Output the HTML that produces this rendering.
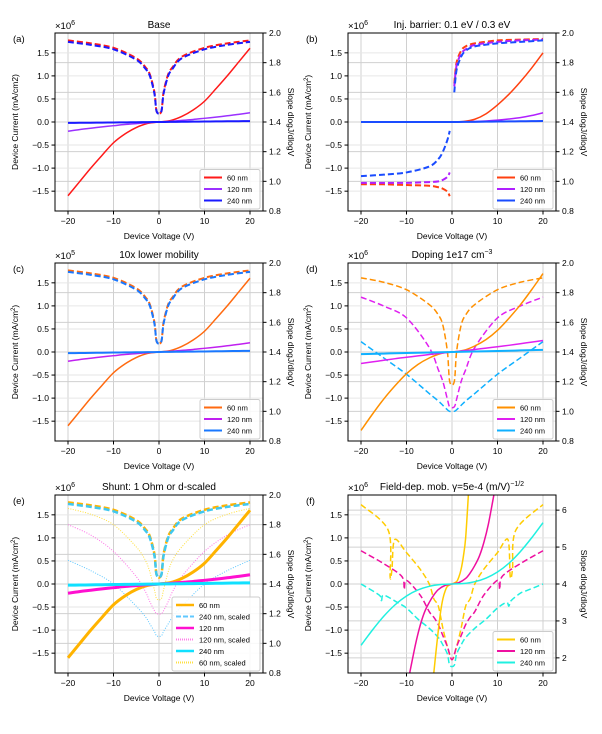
<!DOCTYPE html>
<html><head><meta charset="utf-8">
<style>
body{margin:0;background:#fff;}
svg{display:block;font-family:"Liberation Sans","DejaVu Sans",sans-serif;}
</style></head>
<body>
<svg id="fig" width="602" height="734" viewBox="0 0 602 734" xmlns="http://www.w3.org/2000/svg"></svg>
<script>
// ---- shared voltage grids ----
const vCur = [-20,-17.5,-15,-12.5,-10,-7.5,-5,-2.5,0,2.5,5,7.5,10,12.5,15,17.5,20];
const vSlope = [-20,-15,-10,-5,-3,-2,-1,-0.5,0.5,1,2,3,5,10,15,20];
const xTicks = [-20,-10,0,10,20];
const yTicksLeft = [-1.5,-1.0,-0.5,0.0,0.5,1.0,1.5];
const yTicksRight = [0.8,1.0,1.2,1.4,1.6,1.8,2.0];
const yTicksRightF = [2,3,4,5,6];

// ---- (a) Base ----
const a_j60 = [-1.6,-1.3,-1.0,-0.72,-0.45,-0.26,-0.12,-0.03,0,0.03,0.12,0.26,0.45,0.72,1.0,1.3,1.6];
const a_j120 = [-0.2,-0.165,-0.135,-0.105,-0.08,-0.055,-0.035,-0.015,0,0.015,0.035,0.055,0.08,0.105,0.135,0.165,0.2];
const a_j240 = [-0.02,-0.0175,-0.015,-0.0125,-0.01,-0.0075,-0.005,-0.0025,0,0.0025,0.005,0.0075,0.01,0.0125,0.015,0.0175,0.02];
const a_s60 = [1.95,1.93,1.9,1.83,1.77,1.72,1.6,1.47,1.47,1.6,1.72,1.77,1.84,1.9,1.93,1.95];
const a_s240 = [1.94,1.92,1.89,1.82,1.76,1.71,1.59,1.47,1.47,1.59,1.71,1.76,1.83,1.89,1.92,1.94];

// ---- (b) Injection barrier ----
const b_j60 = [0,0,0,0,0,0,0,0,0,0.01,0.06,0.18,0.37,0.6,0.87,1.17,1.5];
const b_j120 = [0,0,0,0,0,0,0,0,0,0.003,0.01,0.022,0.04,0.065,0.095,0.14,0.2];
const b_j240 = [0,0,0,0,0,0,0,0,0,0.002,0.004,0.007,0.01,0.013,0.016,0.019,0.022];
const b_vNeg = [-20,-15,-10,-5,-3,-2,-1,-0.5];
const b_sNeg60 = [0.98,0.98,0.975,0.97,0.96,0.95,0.93,0.9];
const b_sNeg120 = [0.99,0.99,0.99,0.995,1.0,1.01,1.03,1.06];
const b_sNeg240 = [1.035,1.045,1.06,1.1,1.15,1.2,1.28,1.34];
const b_vPos = [0.5,1,2,3,5,10,15,20];
const b_sPos60 = [1.66,1.8,1.88,1.91,1.93,1.95,1.955,1.96];
const b_sPos120 = [1.64,1.78,1.86,1.89,1.92,1.94,1.95,1.955];
const b_sPos240 = [1.6,1.75,1.84,1.88,1.91,1.93,1.94,1.95];

// ---- (c) 10x lower mobility ----
const c_j60 = [-1.6,-1.3,-1.0,-0.72,-0.45,-0.26,-0.12,-0.03,0,0.03,0.12,0.26,0.45,0.72,1.0,1.3,1.6];
const c_j120 = [-0.2,-0.165,-0.135,-0.105,-0.08,-0.055,-0.035,-0.015,0,0.015,0.035,0.055,0.08,0.105,0.135,0.165,0.2];
const c_j240 = [-0.025,-0.022,-0.019,-0.015,-0.012,-0.009,-0.006,-0.003,0,0.003,0.006,0.009,0.012,0.015,0.019,0.022,0.025];
const c_s60 = [1.95,1.93,1.9,1.83,1.77,1.72,1.6,1.47,1.47,1.6,1.72,1.77,1.84,1.9,1.93,1.95];
const c_s240 = [1.94,1.92,1.89,1.82,1.76,1.71,1.59,1.47,1.47,1.59,1.71,1.76,1.83,1.89,1.92,1.94];

// ---- (d) Doping ----
const d_j60 = [-1.7,-1.35,-1.02,-0.73,-0.47,-0.27,-0.13,-0.035,0,0.035,0.13,0.27,0.47,0.73,1.02,1.35,1.7];
const d_j120 = [-0.25,-0.215,-0.18,-0.145,-0.115,-0.085,-0.055,-0.027,0,0.027,0.055,0.085,0.115,0.145,0.18,0.215,0.25];
const d_j240 = [-0.045,-0.04,-0.034,-0.028,-0.022,-0.017,-0.011,-0.006,0,0.006,0.011,0.017,0.022,0.028,0.034,0.04,0.045];
const d_s60 = [1.9,1.87,1.82,1.72,1.65,1.58,1.4,1.2,1.2,1.4,1.58,1.65,1.72,1.82,1.87,1.9];
const d_s120 = [1.77,1.71,1.63,1.43,1.28,1.2,1.08,1.03,1.03,1.08,1.2,1.28,1.43,1.63,1.71,1.77];
const d_s240 = [1.47,1.36,1.25,1.12,1.07,1.04,1.01,1.0,1.0,1.01,1.04,1.07,1.12,1.25,1.36,1.47];

// ---- (e) Shunt ----
const e_j60 = [-1.6,-1.3,-1.0,-0.72,-0.45,-0.26,-0.12,-0.03,0,0.03,0.12,0.26,0.45,0.72,1.0,1.3,1.6];
const e_j120 = [-0.2,-0.165,-0.135,-0.105,-0.08,-0.055,-0.035,-0.015,0,0.015,0.035,0.055,0.08,0.105,0.135,0.165,0.2];
const e_j240 = [-0.025,-0.022,-0.019,-0.015,-0.012,-0.009,-0.006,-0.003,0,0.003,0.006,0.009,0.012,0.015,0.019,0.022,0.025];
const e_s60 = [1.95,1.93,1.9,1.83,1.77,1.72,1.6,1.46,1.46,1.6,1.72,1.77,1.84,1.9,1.93,1.95];
const e_s240 = [1.94,1.92,1.89,1.82,1.76,1.71,1.59,1.46,1.46,1.59,1.71,1.76,1.83,1.89,1.92,1.94];
const e_s60sc = [1.91,1.87,1.8,1.65,1.56,1.48,1.36,1.3,1.3,1.36,1.48,1.56,1.65,1.8,1.87,1.91];
const e_s120sc = [1.8,1.73,1.62,1.45,1.35,1.28,1.22,1.2,1.2,1.22,1.28,1.35,1.45,1.62,1.73,1.8];
const e_s240sc = [1.56,1.49,1.4,1.25,1.18,1.13,1.08,1.05,1.05,1.08,1.13,1.18,1.25,1.4,1.49,1.56];

// ---- (f) Field-dependent mobility ----
const f_v60 = [-4,-3.5,-3,-2.5,-2,-1.5,-1,0,1,1.5,2,2.5,3,3.6];
const f_j60 = [-1.93,-1.45,-1.0,-0.6,-0.32,-0.15,-0.05,0,0.05,0.15,0.32,0.6,1.0,1.93];
const f_v120 = [-9.3,-8,-7,-6,-5,-4,-3,-1.5,0,1.5,3,4,5,6,7,8,9.2];
const f_j120 = [-1.93,-1.3,-0.9,-0.6,-0.4,-0.24,-0.12,-0.03,0,0.03,0.12,0.24,0.4,0.6,0.9,1.3,1.93];
const f_j240 = [-1.33,-1.0,-0.7,-0.45,-0.26,-0.13,-0.05,-0.01,0,0.01,0.05,0.13,0.26,0.45,0.7,1.0,1.33];
const f_vs60 = [-20,-14,-13.6,-13.2,-12.6,-10,-7,-5,-4,-3,-2,-1,0,1,2,3,4,5,7,10,12.3,12.8,13.3,14,20];
const f_s60 = [6.15,5.45,4.2,4.4,5.2,4.85,4.4,4.0,3.6,3.4,2.8,2.3,1.95,2.3,2.8,3.4,3.6,4.0,4.4,4.85,5.2,4.2,4.4,5.45,6.15];
const f_vs120 = [-20,-15,-11,-10.5,-10,-7,-5,-4,-3,-2,-1,0,1,2,3,4,5,7,10,10.5,11,15,20];
const f_s120 = [4.9,4.55,4.2,3.85,4.1,3.7,3.25,3.1,2.9,2.6,2.3,1.95,2.3,2.6,2.9,3.1,3.25,3.7,4.1,3.85,4.2,4.55,4.9];
const f_vs240 = [-20,-16,-15.5,-15,-12,-10,-7.5,-5,-3,-2,-1,-0.5,0.5,1,2,3,5,7.5,10,12,12.5,13,15,16,20];
const f_s240 = [4.0,3.7,3.55,3.7,3.5,3.35,3.05,2.8,2.55,2.35,2.1,1.8,1.8,2.1,2.35,2.55,2.8,3.05,3.35,3.5,3.4,3.55,3.75,3.8,4.0];

const NS = "http://www.w3.org/2000/svg";
const svg = document.getElementById('fig');
function el(tag, attrs, parent, text){
  const e = document.createElementNS(NS, tag);
  for (const k in attrs) e.setAttribute(k, attrs[k]);
  if (text !== undefined) e.textContent = text;
  (parent||svg).appendChild(e);
  return e;
}
function smoothPath(pts){
  if (pts.length < 2) return '';
  let d = 'M' + pts[0][0].toFixed(2) + ',' + pts[0][1].toFixed(2);
  for (let i=0;i<pts.length-1;i++){
    const p0 = pts[i-1]||pts[i], p1 = pts[i], p2 = pts[i+1], p3 = pts[i+2]||p2;
    const t = 0.16;
    const c1 = [p1[0]+(p2[0]-p0[0])*t, p1[1]+(p2[1]-p0[1])*t];
    const c2 = [p2[0]-(p3[0]-p1[0])*t, p2[1]-(p3[1]-p1[1])*t];
    d += ' C'+c1[0].toFixed(2)+','+c1[1].toFixed(2)+' '+c2[0].toFixed(2)+','+c2[1].toFixed(2)+' '+p2[0].toFixed(2)+','+p2[1].toFixed(2);
  }
  return d;
}

function panel(cfg){
  const L = cfg.x0, T = cfg.y0, W = 208, H = 178;
  const g = el('g', {});
  
  
  const xs = v => L + 13 + (v + 20) * (182/40);
  const yl = v => T + H/2 - v * (H/2) / 1.93;
  const yr = v => T + H - (v - cfg.rmin) / (cfg.rmax - cfg.rmin) * H;
  const clipId = 'clip' + cfg.letter;
  const cp = el('clipPath', {id: clipId}, g);
  el('rect', {x:L, y:T, width:W, height:H}, cp);
  const grid = el('g', {stroke:'#d0d0d0','stroke-width':1}, g);
  
  
  xTicks.forEach(v => el('line', {x1:xs(v), x2:xs(v), y1:T, y2:T+H}, grid));
  yTicksLeft.forEach(v => el('line', {x1:L, x2:L+W, y1:yl(v), y2:yl(v), stroke:'#e6e6e6'}, grid));
  cfg.rticks.forEach(v => el('line', {x1:L, x2:L+W, y1:yr(v), y2:yr(v)}, grid));
  const sg = el('g', {'clip-path':'url(#'+clipId+')', fill:'none'}, g);
  cfg.series.forEach(s => {
    const yf = s.right ? yr : yl;
    const pts = s.x.map((v,i) => [xs(v), yf(s.y[i])]);
    const p = el('path', {d: smoothPath(pts), stroke:s.color, 'stroke-width':s.w||1.5, 'stroke-dasharray':s.dash||'none', 'stroke-linecap':'butt'}, sg);
    
    
  });
  el('rect', {x:L, y:T, width:W, height:H, fill:'none', stroke:'#000', 'stroke-width':1}, g);
  const tg = el('g', {'font-size':'8.5px', fill:'#000'}, g);
  xTicks.forEach(v => {
    el('line', {x1:xs(v), x2:xs(v), y1:T+H, y2:T+H+3.5, stroke:'#000'}, tg);
    el('text', {x:xs(v), y:T+H+13, 'text-anchor':'middle'}, tg, v < 0 ? '\u2212'+Math.abs(v) : String(v));
  });
  yTicksLeft.forEach(v => {
    el('line', {x1:L-3.5, x2:L, y1:yl(v), y2:yl(v), stroke:'#000'}, tg);
    el('text', {x:L-6, y:yl(v)+3, 'text-anchor':'end'}, tg, (v<0?'\u2212':'') + Math.abs(v).toFixed(1));
  });
  cfg.rticks.forEach(v => {
    el('line', {x1:L+W, x2:L+W+3.5, y1:yr(v), y2:yr(v), stroke:'#000'}, tg);
    el('text', {x:L+W+6, y:yr(v)+3, 'text-anchor':'start'}, tg, cfg.rint ? String(v) : v.toFixed(1));
  });
  const t1 = el('text', {x:L+W/2, y:T+H+28, 'text-anchor':'middle', 'font-size':'8.5px'}, g, 'Device Voltage (V)');
  
  
  const t2 = el('text', {x:0, y:0, 'text-anchor':'middle', 'font-size':'8.5px', transform:'translate('+(L-37)+','+(T+H/2)+') rotate(-90)'}, g);
  t2.innerHTML = cfg.ylab;
  
  
  const t3 = el('text', {x:0, y:0, 'text-anchor':'middle', 'font-size':'8.5px', transform:'translate('+(L+W+25)+','+(T+H/2)+') rotate(90)'}, g, 'Slope dlogJ/dlogV');
  
  
  const t4 = el('text', {x:L+W/2, y:T-5, 'text-anchor':'middle', 'font-size':'10px'}, g);
  t4.innerHTML = cfg.title;
  
  
  const t5 = el('text', {x:L, y:T-4, 'font-size':'9.5px'}, g);
  t5.innerHTML = '\u00d710<tspan dy="-4" font-size="7px">' + cfg.exp + '</tspan>';
  
  
  const t6 = el('text', {x:L-42, y:T+9, 'font-size':'9.5px'}, g, '(' + cfg.letter + ')');
  
  
  const lg = el('g', {}, g);
  
  
  const n = cfg.legend.length, lh = 11.5, lw = cfg.legW || 60;
  const lx = L + W - lw - 3, ly = T + H - n*lh - 7;
  el('rect', {x:lx, y:ly, width:lw, height:n*lh+5, rx:2, fill:'#fff', 'fill-opacity':0.85, stroke:'#ccc'}, lg);
  cfg.legend.forEach((e,i) => {
    const yy = ly + 8 + i*lh;
    const ent = el('g', {}, lg);
    
    
    el('line', {x1:lx+4, x2:lx+22, y1:yy, y2:yy, stroke:e.color, 'stroke-width':e.w||2, 'stroke-dasharray':e.dash||'none'}, ent);
    el('text', {x:lx+27, y:yy+3, 'font-size':'7.5px'}, ent, e.label);
  });
}

const leg = (c1,c2,c3) => [{label:'60 nm',color:c1},{label:'120 nm',color:c2},{label:'240 nm',color:c3}];
const J_LAB = 'Device Current (mA/cm<tspan dy="-3" font-size="6px">2</tspan><tspan dy="3">)</tspan>';

panel({letter:'a', x0:55, y0:33, rmin:0.8, rmax:2.0, rticks:yTicksRight, exp:'6', title:'Base', ylab:'Device Current (mA/cm2)',
  legend:leg('#ff1a1a','#9b30ff','#1a1aff'),
  series:[
    {name:'slope-60nm', x:vSlope, y:a_s60, right:true, color:'#ff1a1a', dash:'6,3', w:2},
    {name:'slope-240nm', x:vSlope, y:a_s240, right:true, color:'#1a1aff', dash:'6,3', w:2},
    {name:'current-60nm', x:vCur, y:a_j60, color:'#ff1a1a'},
    {name:'current-120nm', x:vCur, y:a_j120, color:'#9b30ff'},
    {name:'current-240nm', x:vCur, y:a_j240, color:'#1a1aff', w:2}
  ]});
panel({letter:'b', x0:348, y0:33, rmin:0.8, rmax:2.0, rticks:yTicksRight, exp:'6', title:'Inj. barrier: 0.1 eV / 0.3 eV', ylab:J_LAB,
  legend:leg('#ff4010','#b020ff','#1a4cff'),
  series:[
    {name:'slope-neg-60nm', x:b_vNeg, y:b_sNeg60, right:true, color:'#ff4010', dash:'6,3', w:2},
    {name:'slope-neg-120nm', x:b_vNeg, y:b_sNeg120, right:true, color:'#b020ff', dash:'6,3', w:2},
    {name:'slope-neg-240nm', x:b_vNeg, y:b_sNeg240, right:true, color:'#1a4cff', dash:'6,3', w:2},
    {name:'slope-pos-60nm', x:b_vPos, y:b_sPos60, right:true, color:'#ff4010', dash:'6,3', w:2},
    {name:'slope-pos-120nm', x:b_vPos, y:b_sPos120, right:true, color:'#b020ff', dash:'6,3', w:2},
    {name:'slope-pos-240nm', x:b_vPos, y:b_sPos240, right:true, color:'#1a4cff', dash:'6,3', w:2},
    {name:'current-60nm', x:vCur, y:b_j60, color:'#ff4010'},
    {name:'current-120nm', x:vCur, y:b_j120, color:'#b020ff'},
    {name:'current-240nm', x:vCur, y:b_j240, color:'#1a4cff', w:2}
  ]});
panel({letter:'c', x0:55, y0:263, rmin:0.8, rmax:2.0, rticks:yTicksRight, exp:'5', title:'10x lower mobility', ylab:J_LAB,
  legend:leg('#ff6a10','#c020f0','#1a78ff'),
  series:[
    {name:'slope-60nm', x:vSlope, y:c_s60, right:true, color:'#ff6a10', dash:'6,3', w:2},
    {name:'slope-240nm', x:vSlope, y:c_s240, right:true, color:'#1a78ff', dash:'6,3', w:2},
    {name:'current-60nm', x:vCur, y:c_j60, color:'#ff6a10'},
    {name:'current-120nm', x:vCur, y:c_j120, color:'#c020f0'},
    {name:'current-240nm', x:vCur, y:c_j240, color:'#1a78ff', w:2}
  ]});
panel({letter:'d', x0:348, y0:263, rmin:0.8, rmax:2.0, rticks:yTicksRight, exp:'6', title:'Doping 1e17 cm<tspan dy="-4" font-size="7px">\u22123</tspan>', ylab:J_LAB,
  legend:leg('#ff9000','#e020f0','#10b0ff'),
  series:[
    {name:'slope-60nm', x:vSlope, y:d_s60, right:true, color:'#ff9000', dash:'6,3', w:1.5},
    {name:'slope-120nm', x:vSlope, y:d_s120, right:true, color:'#e020f0', dash:'6,3', w:1.5},
    {name:'slope-240nm', x:vSlope, y:d_s240, right:true, color:'#10b0ff', dash:'6,3', w:1.5},
    {name:'current-60nm', x:vCur, y:d_j60, color:'#ff9000'},
    {name:'current-120nm', x:vCur, y:d_j120, color:'#e020f0'},
    {name:'current-240nm', x:vCur, y:d_j240, color:'#10b0ff', w:2}
  ]});
panel({letter:'e', x0:55, y0:495, rmin:0.8, rmax:2.0, rticks:yTicksRight, exp:'6', title:'Shunt: 1 Ohm or d-scaled', ylab:J_LAB, legW:88,
  legend:[{label:'60 nm',color:'#ffb300',w:2.5},{label:'240 nm, scaled',color:'#60c8ff',dash:'5,2'},{label:'120 nm',color:'#ff10d0',w:2.5},
          {label:'120 nm, scaled',color:'#ff80e8',dash:'1,1'},{label:'240 nm',color:'#10e0ff',w:2.5},{label:'60 nm, scaled',color:'#ffe040',dash:'1,1'}],
  series:[
    {name:'slope-60nm-scaled', x:vSlope, y:e_s60sc, right:true, color:'#ffe040', dash:'1,1.5', w:1},
    {name:'slope-120nm-scaled', x:vSlope, y:e_s120sc, right:true, color:'#ff70e8', dash:'1,1.5', w:1},
    {name:'slope-240nm-scaled', x:vSlope, y:e_s240sc, right:true, color:'#60c8ff', dash:'1,1.5', w:1},
    {name:'slope-60nm', x:vSlope, y:e_s60, right:true, color:'#ffb300', dash:'6,3', w:2.5},
    {name:'slope-240nm', x:vSlope, y:e_s240, right:true, color:'#40c8f0', dash:'6,3', w:2.5},
    {name:'current-60nm', x:vCur, y:e_j60, color:'#ffb300', w:3},
    {name:'current-120nm', x:vCur, y:e_j120, color:'#ff10d0', w:3},
    {name:'current-240nm', x:vCur, y:e_j240, color:'#10e0ff', w:3}
  ]});
panel({letter:'f', x0:348, y0:495, rmin:1.59, rmax:6.41, rticks:yTicksRightF, rint:true, exp:'6', title:'Field-dep. mob. \u03b3=5e-4 (m/V)<tspan dy="-4" font-size="7px">\u22121/2</tspan>', ylab:J_LAB,
  legend:leg('#ffcc00','#ee10a0','#20f0e0'),
  series:[
    {name:'slope-60nm', x:f_vs60, y:f_s60, right:true, color:'#ffcc00', dash:'6,3', w:1.5},
    {name:'slope-120nm', x:f_vs120, y:f_s120, right:true, color:'#ee10a0', dash:'6,3', w:1.5},
    {name:'slope-240nm', x:f_vs240, y:f_s240, right:true, color:'#20f0e0', dash:'6,3', w:1.5},
    {name:'current-60nm', x:f_v60, y:f_j60, color:'#ffcc00'},
    {name:'current-120nm', x:f_v120, y:f_j120, color:'#ee10a0'},
    {name:'current-240nm', x:vCur, y:f_j240, color:'#20f0e0'}
  ]});
</script>
</body></html>
